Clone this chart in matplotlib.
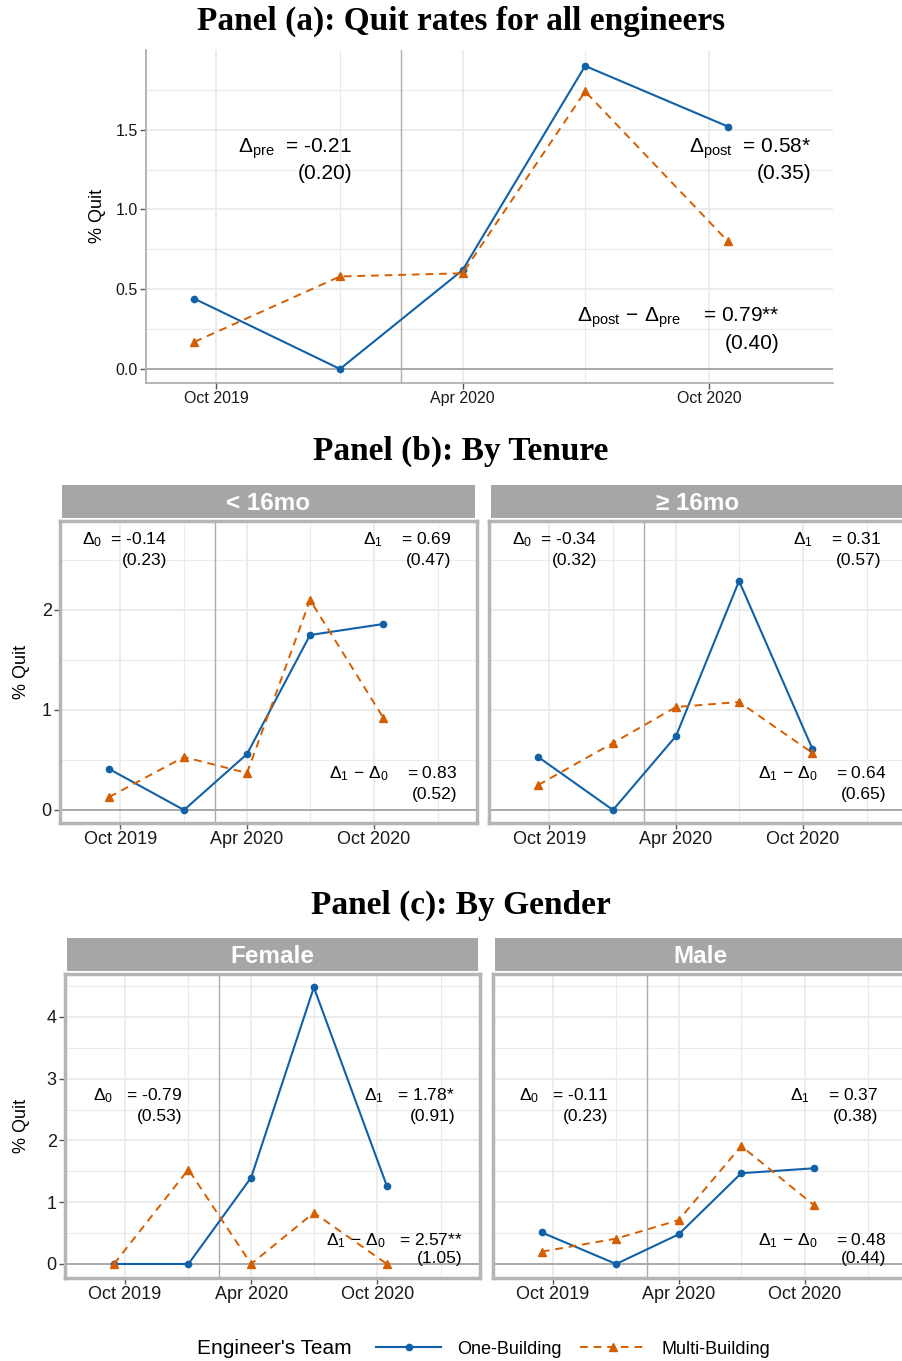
import numpy as np
import matplotlib
matplotlib.use("Agg")
import matplotlib.pyplot as plt
from matplotlib.lines import Line2D

plt.rcParams['font.family'] = ['Liberation Sans', 'DejaVu Sans']
plt.rcParams['mathtext.fontset'] = 'custom'
plt.rcParams['mathtext.rm'] = 'Liberation Sans'
plt.rcParams['mathtext.it'] = 'Liberation Sans:italic'
plt.rcParams['mathtext.bf'] = 'Liberation Sans:bold'

# quarterly observation dates
quarters = ["2019-09-15", "2020-01-01", "2020-04-01", "2020-07-01", "2020-10-15"]
event_date = "2020-02-15"
tick_dates = ["2019-10-01", "2020-04-01", "2020-10-01"]
tick_labels = ["Oct 2019", "Apr 2020", "Oct 2020"]
minor_dates = ["2020-01-01", "2020-07-01", "2021-01-01"]

# panel (a): all engineers
all_one = [0.44, 0.0, 0.62, 1.90, 1.52]
all_multi = [0.17, 0.58, 0.60, 1.74, 0.80]

# panel (b): by tenure
tenure_labels = ["< 16mo", "\u2265 16mo"]
tenure_one = [[0.41, 0.0, 0.56, 1.75, 1.86],
              [0.53, 0.0, 0.74, 2.29, 0.61]]
tenure_multi = [[0.13, 0.53, 0.37, 2.10, 0.92],
                [0.25, 0.67, 1.03, 1.08, 0.57]]
tenure_d0 = [("-0.14", "(0.23)"), ("-0.34", "(0.32)")]
tenure_d1 = [("0.69", "(0.47)"), ("0.31", "(0.57)")]
tenure_dd = [("0.83", "(0.52)"), ("0.64", "(0.65)")]

# panel (c): by gender
gender_labels = ["Female", "Male"]
gender_one = [[0.0, 0.0, 1.40, 4.48, 1.26],
              [0.51, 0.0, 0.48, 1.47, 1.55]]
gender_multi = [[0.0, 1.53, 0.0, 0.83, 0.0],
                [0.20, 0.41, 0.71, 1.91, 0.95]]
gender_d0 = [("-0.79", "(0.53)"), ("-0.11", "(0.23)")]
gender_d1 = [("1.78*", "(0.91)"), ("0.37", "(0.38)")]
gender_dd = [("2.57**", "(1.05)"), ("0.48", "(0.44)")]

BLUE = "#1061A8"
ORANGE = "#D55E00"
GRID = "#EBEBEB"
W, H = 902, 1361

x = np.array(quarters, dtype="datetime64[D]")


def fig_rect(l, t, r, b):
    return [l / W, 1 - b / H, (r - l) / W, (b - t) / H]


def draw_panel(ax, one, multi, xlim, ylim, ymajor, yminor, ylabels, fs):
    ax.set_facecolor("white")
    ax.set_xlim(np.datetime64(xlim[0]), np.datetime64(xlim[1]))
    ax.set_ylim(*ylim)
    ax.set_xticks(np.array(tick_dates, dtype="datetime64[D]"))
    ax.set_xticklabels(tick_labels)
    ax.set_xticks(np.array(minor_dates, dtype="datetime64[D]"), minor=True)
    ax.set_yticks(ymajor)
    ax.set_yticklabels(ylabels)
    ax.set_yticks(yminor, minor=True)
    ax.grid(True, which="major", color=GRID, lw=1.3)
    ax.grid(True, which="minor", color=GRID, lw=0.8)
    ax.set_axisbelow(True)
    ax.tick_params(which="major", length=4, width=1, color="#555555",
                   labelsize=fs, labelcolor="#1a1a1a", pad=2)
    ax.tick_params(which="minor", length=0)
    ax.axhline(0, color="#9E9E9E", lw=1.2, zorder=1)
    ax.axvline(np.datetime64(event_date), color="#ABABAB", lw=1.0, zorder=1)
    ax.plot(x, one, color=BLUE, lw=1.5, marker="o", ms=4.5, zorder=3)
    ax.plot(x, multi, color=ORANGE, lw=1.4, ls=(0, (4, 3)), marker="^", ms=6, zorder=3)


def annot(ax, xr, y1, y2, head, val, se, fs, gap=2):
    ax.text(xr, y1, head + " " * gap + "= " + val, transform=ax.transAxes, ha="right",
            va="center", fontsize=fs, color="black", zorder=4)
    ax.text(xr, y2, se, transform=ax.transAxes, ha="right", va="center",
            fontsize=fs, color="black", zorder=4)


fig = plt.figure(figsize=(W / 100, H / 100), dpi=100)

title_kw = dict(fontsize=24, fontweight="bold", family="Liberation Serif", ha="center", va="center")
fig.text(461 / W, 1 - 21 / H, "Panel (a): Quit rates for all engineers", **title_kw)
fig.text(461 / W, 1 - 451 / H, "Panel (b): By Tenure", **title_kw)
fig.text(461 / W, 1 - 905 / H, "Panel (c): By Gender", **title_kw)

# ---- panel (a)
ax = fig.add_axes(fig_rect(146, 50, 833, 383))
draw_panel(ax, all_one, all_multi, ("2019-08-10", "2020-12-13"), (-0.088, 2.0),
           [0, 0.5, 1.0, 1.5], [0.25, 0.75, 1.25, 1.75], ["0.0", "0.5", "1.0", "1.5"], 11.5)
for s in ["top", "right"]:
    ax.spines[s].set_visible(False)
for s in ["left", "bottom"]:
    ax.spines[s].set_color("#B0B0B0")
    ax.spines[s].set_linewidth(1.3)
annot(ax, 0.300, 0.703, 0.628, r"$\Delta_{\mathrm{pre}}$", "-0.21", "(0.20)", 15, 2)
annot(ax, 0.968, 0.703, 0.628, r"$\Delta_{\mathrm{post}}$", "0.58*", "(0.35)", 15, 2)
annot(ax, 0.922, 0.195, 0.118, r"$\Delta_{\mathrm{post}}\,-\,\Delta_{\mathrm{pre}}$", "0.79**", "(0.40)", 15, 4)
fig.text(97 / W, 1 - 216 / H, "% Quit", rotation=90, ha="center", va="center", fontsize=13)


def facet_row(lefts, top, bottom, strip_top, labels, ones, multis, ylim, ymajor, yminor,
              ylabels, d0, d1, dd, pos, gaps, ylab_y):
    for i, (l, r) in enumerate(lefts):
        ax = fig.add_axes(fig_rect(l, top, r, bottom))
        draw_panel(ax, ones[i], multis[i], ("2019-07-06", "2021-02-27"), ylim,
                   ymajor, yminor, ylabels, 13)
        for s in ax.spines.values():
            s.set_color("#B5B5B5")
            s.set_linewidth(2.5)
        if i > 0:
            ax.tick_params(axis="y", labelleft=False, length=0)
        p = pos[i]
        g = gaps[i]
        annot(ax, p[0], p[3], p[4], r"$\Delta_0$", d0[i][0], d0[i][1], 12.5, g[0])
        annot(ax, p[1], p[3], p[4], r"$\Delta_1$", d1[i][0], d1[i][1], 12.5, g[1])
        annot(ax, p[2], p[5], p[6], r"$\Delta_1\,-\,\Delta_0$", dd[i][0], dd[i][1], 12.5, g[2])
        sax = fig.add_axes(fig_rect(l + 2, strip_top, r - 2, top - 3))
        sax.set_facecolor("#A6A6A6")
        sax.set_xticks([])
        sax.set_yticks([])
        for s in sax.spines.values():
            s.set_visible(False)
        sax.text(0.5, 0.45, labels[i], transform=sax.transAxes, ha="center", va="center",
                 fontsize=17.5, fontweight="bold", color="white")
    fig.text(22 / W, 1 - ylab_y / H, "% Quit", rotation=90, ha="center", va="center", fontsize=13)


# ---- panel (b)
facet_row([(60, 477), (489, 906)], 521, 823, 485, tenure_labels, tenure_one, tenure_multi,
          (-0.13, 2.89), [0, 1, 2], [0.5, 1.5, 2.5], ["0", "1", "2"],
          tenure_d0, tenure_d1, tenure_dd,
          [(0.257, 0.938, 0.952, 0.937, 0.868, 0.164, 0.094),
           (0.259, 0.940, 0.952, 0.937, 0.868, 0.164, 0.094)],
          [(2, 4, 4), (2, 4, 4)], 672)

# ---- panel (c)
facet_row([(65, 480), (493, 907)], 974, 1278, 938, gender_labels, gender_one, gender_multi,
          (-0.227, 4.696), [0, 1, 2, 3, 4], [0.5, 1.5, 2.5, 3.5, 4.5],
          ["0", "1", "2", "3", "4"], gender_d0, gender_d1, gender_dd,
          [(0.282, 0.940, 0.959, 0.600, 0.531, 0.122, 0.064),
           (0.278, 0.930, 0.949, 0.600, 0.531, 0.122, 0.064)],
          [(3, 3, 3), (3, 4, 4)], 1126)

# ---- legend
fig.text(197 / W, 1 - 1349 / H, "Engineer's Team", ha="left", va="center", fontsize=15)
handles = [Line2D([], [], color=BLUE, lw=1.5, marker="o", ms=4.5),
           Line2D([], [], color=ORANGE, lw=1.4, ls=(0, (4, 3)), marker="^", ms=6)]
fig.legend(handles, ["One-Building", "Multi-Building"], loc="center left",
           bbox_to_anchor=(360 / W, 1 - 1349 / H), ncol=2, frameon=False, fontsize=13,
           handlelength=3.6, handletextpad=0.9, columnspacing=1.0)

fig.savefig("out.png", dpi=100)
